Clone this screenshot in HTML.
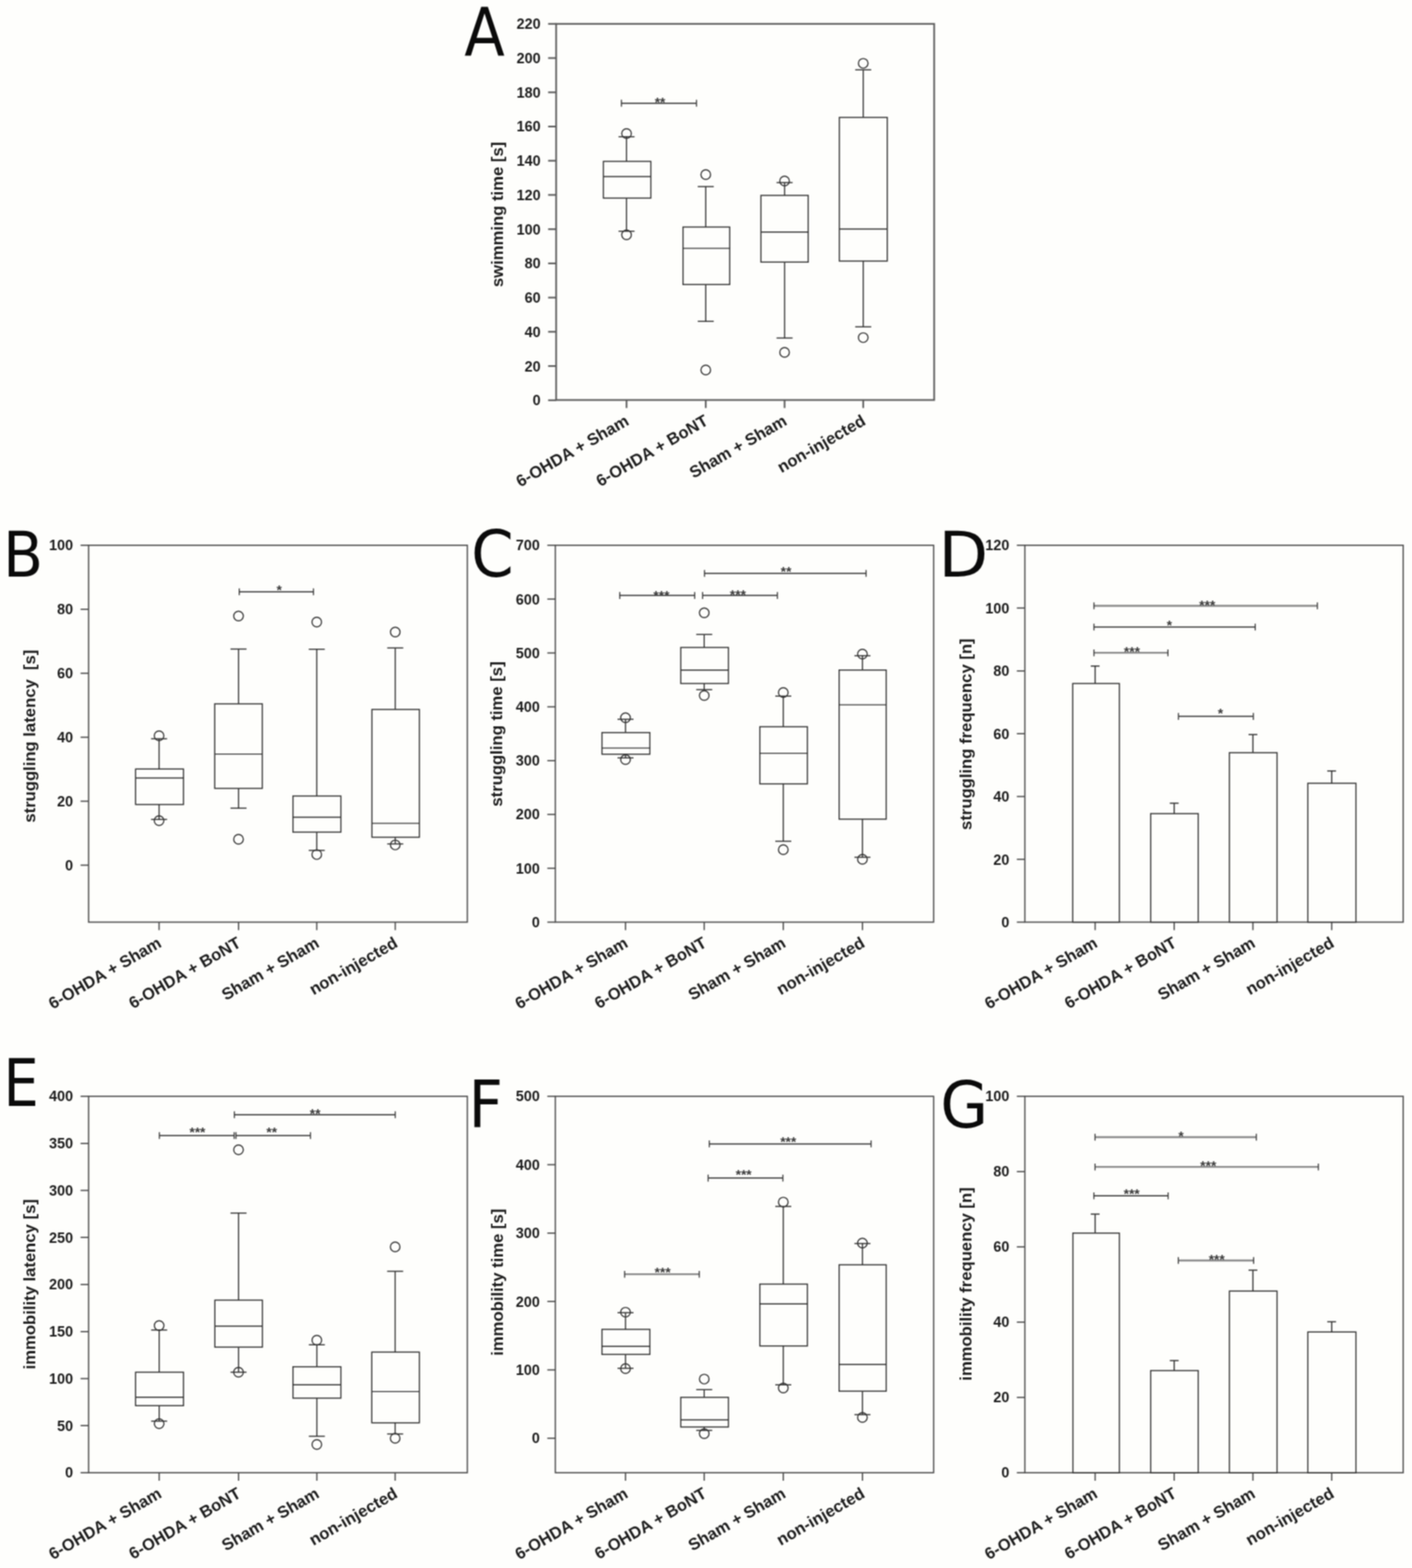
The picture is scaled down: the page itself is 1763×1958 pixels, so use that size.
<!DOCTYPE html>
<html lang="en">
<head>
<meta charset="utf-8">
<title>Forced swim test figure</title>
<style>
html,body{margin:0;padding:0;background:#fefefc;}
body{width:1763px;height:1958px;overflow:hidden;}
svg{display:block;}
svg text{font-family:"Liberation Sans",sans-serif;}
svg text.pl{font-family:"DejaVu Sans Condensed","DejaVu Sans","Liberation Sans",sans-serif;font-stretch:condensed;font-weight:normal;}
</style>
</head>
<body>
<svg width="1763" height="1958" viewBox="0 0 1763 1958">
<defs>
<filter id="soft" x="0" y="0" width="1763" height="1958" filterUnits="userSpaceOnUse" color-interpolation-filters="sRGB">
<feConvolveMatrix order="3" kernelMatrix="0.0576 0.1248 0.0576 0.1248 0.2704 0.1248 0.0576 0.1248 0.0576" divisor="1" edgeMode="duplicate" preserveAlpha="false"/>
</filter>
</defs>
<g filter="url(#soft)">
<rect x="0" y="0" width="1763" height="1958" fill="#fefefc"/>
<g>
<rect x="694.4" y="29.8" width="472.0" height="469.7" fill="none" stroke="#5a5a5a" stroke-width="2.1"/>
<line x1="684.4" y1="499.8" x2="694.4" y2="499.8" stroke="#5a5a5a" stroke-width="2.1"/>
<text x="675.0" y="506.2" font-size="18" font-weight="bold" text-anchor="end" fill="#1c1c1c">0</text>
<line x1="684.4" y1="457.1" x2="694.4" y2="457.1" stroke="#5a5a5a" stroke-width="2.1"/>
<text x="675.0" y="463.5" font-size="18" font-weight="bold" text-anchor="end" fill="#1c1c1c">20</text>
<line x1="684.4" y1="414.3" x2="694.4" y2="414.3" stroke="#5a5a5a" stroke-width="2.1"/>
<text x="675.0" y="420.7" font-size="18" font-weight="bold" text-anchor="end" fill="#1c1c1c">40</text>
<line x1="684.4" y1="371.6" x2="694.4" y2="371.6" stroke="#5a5a5a" stroke-width="2.1"/>
<text x="675.0" y="378.0" font-size="18" font-weight="bold" text-anchor="end" fill="#1c1c1c">60</text>
<line x1="684.4" y1="328.9" x2="694.4" y2="328.9" stroke="#5a5a5a" stroke-width="2.1"/>
<text x="675.0" y="335.3" font-size="18" font-weight="bold" text-anchor="end" fill="#1c1c1c">80</text>
<line x1="684.4" y1="286.2" x2="694.4" y2="286.2" stroke="#5a5a5a" stroke-width="2.1"/>
<text x="675.0" y="292.6" font-size="18" font-weight="bold" text-anchor="end" fill="#1c1c1c">100</text>
<line x1="684.4" y1="243.4" x2="694.4" y2="243.4" stroke="#5a5a5a" stroke-width="2.1"/>
<text x="675.0" y="249.8" font-size="18" font-weight="bold" text-anchor="end" fill="#1c1c1c">120</text>
<line x1="684.4" y1="200.7" x2="694.4" y2="200.7" stroke="#5a5a5a" stroke-width="2.1"/>
<text x="675.0" y="207.1" font-size="18" font-weight="bold" text-anchor="end" fill="#1c1c1c">140</text>
<line x1="684.4" y1="158.0" x2="694.4" y2="158.0" stroke="#5a5a5a" stroke-width="2.1"/>
<text x="675.0" y="164.4" font-size="18" font-weight="bold" text-anchor="end" fill="#1c1c1c">160</text>
<line x1="684.4" y1="115.3" x2="694.4" y2="115.3" stroke="#5a5a5a" stroke-width="2.1"/>
<text x="675.0" y="121.7" font-size="18" font-weight="bold" text-anchor="end" fill="#1c1c1c">180</text>
<line x1="684.4" y1="72.5" x2="694.4" y2="72.5" stroke="#5a5a5a" stroke-width="2.1"/>
<text x="675.0" y="78.9" font-size="18" font-weight="bold" text-anchor="end" fill="#1c1c1c">200</text>
<line x1="684.4" y1="29.8" x2="694.4" y2="29.8" stroke="#5a5a5a" stroke-width="2.1"/>
<text x="675.0" y="36.2" font-size="18" font-weight="bold" text-anchor="end" fill="#1c1c1c">220</text>
<line x1="782.3" y1="499.5" x2="782.3" y2="509.5" stroke="#5a5a5a" stroke-width="2.1"/>
<text transform="translate(786.7 529.5) rotate(-30)" font-size="20.7" font-weight="bold" text-anchor="end" fill="#1c1c1c">6-OHDA + Sham</text>
<line x1="881.2" y1="499.5" x2="881.2" y2="509.5" stroke="#5a5a5a" stroke-width="2.1"/>
<text transform="translate(885.6 529.5) rotate(-30)" font-size="20.7" font-weight="bold" text-anchor="end" fill="#1c1c1c">6-OHDA + BoNT</text>
<line x1="979.6" y1="499.5" x2="979.6" y2="509.5" stroke="#5a5a5a" stroke-width="2.1"/>
<text transform="translate(984.0 529.5) rotate(-30)" font-size="20.7" font-weight="bold" text-anchor="end" fill="#1c1c1c">Sham + Sham</text>
<line x1="1077.8" y1="499.5" x2="1077.8" y2="509.5" stroke="#5a5a5a" stroke-width="2.1"/>
<text transform="translate(1082.2 529.5) rotate(-30)" font-size="20.7" font-weight="bold" text-anchor="end" fill="#1c1c1c">non-injected</text>
<text transform="translate(628.0 267.8) rotate(-90)" font-size="20.8" font-weight="bold" text-anchor="middle" fill="#1c1c1c" xml:space="preserve" style="white-space:pre">swimming time [s]</text>
<line x1="782.3" y1="170.7" x2="782.3" y2="201.5" stroke="#303030" stroke-width="1.45"/>
<line x1="782.3" y1="247.4" x2="782.3" y2="288.7" stroke="#303030" stroke-width="1.45"/>
<line x1="772.3" y1="170.7" x2="792.3" y2="170.7" stroke="#303030" stroke-width="1.45"/>
<line x1="772.3" y1="288.7" x2="792.3" y2="288.7" stroke="#303030" stroke-width="1.45"/>
<rect x="753.4" y="201.5" width="59.2" height="45.9" fill="#fefefc" stroke="#303030" stroke-width="1.45"/>
<line x1="753.4" y1="220.4" x2="812.6" y2="220.4" stroke="#303030" stroke-width="1.45"/>
<circle cx="782.3" cy="166.8" r="6.0" fill="none" stroke="#303030" stroke-width="1.45"/>
<circle cx="782.3" cy="293.2" r="6.0" fill="none" stroke="#303030" stroke-width="1.45"/>
<line x1="881.2" y1="233.0" x2="881.2" y2="283.5" stroke="#303030" stroke-width="1.45"/>
<line x1="881.2" y1="355.3" x2="881.2" y2="401.3" stroke="#303030" stroke-width="1.45"/>
<line x1="871.2" y1="233.0" x2="891.2" y2="233.0" stroke="#303030" stroke-width="1.45"/>
<line x1="871.2" y1="401.3" x2="891.2" y2="401.3" stroke="#303030" stroke-width="1.45"/>
<rect x="852.8" y="283.5" width="58.3" height="71.8" fill="#fefefc" stroke="#303030" stroke-width="1.45"/>
<line x1="852.8" y1="310.1" x2="911.1" y2="310.1" stroke="#303030" stroke-width="1.45"/>
<circle cx="881.2" cy="217.9" r="6.0" fill="none" stroke="#303030" stroke-width="1.45"/>
<circle cx="881.2" cy="462.0" r="6.0" fill="none" stroke="#303030" stroke-width="1.45"/>
<line x1="979.6" y1="228.0" x2="979.6" y2="244.0" stroke="#303030" stroke-width="1.45"/>
<line x1="979.6" y1="327.3" x2="979.6" y2="422.1" stroke="#303030" stroke-width="1.45"/>
<line x1="969.6" y1="228.0" x2="989.6" y2="228.0" stroke="#303030" stroke-width="1.45"/>
<line x1="969.6" y1="422.1" x2="989.6" y2="422.1" stroke="#303030" stroke-width="1.45"/>
<rect x="950.1" y="244.0" width="59.0" height="83.3" fill="#fefefc" stroke="#303030" stroke-width="1.45"/>
<line x1="950.1" y1="289.7" x2="1009.1" y2="289.7" stroke="#303030" stroke-width="1.45"/>
<circle cx="979.6" cy="226.0" r="6.0" fill="none" stroke="#303030" stroke-width="1.45"/>
<circle cx="979.6" cy="440.0" r="6.0" fill="none" stroke="#303030" stroke-width="1.45"/>
<line x1="1077.8" y1="87.2" x2="1077.8" y2="146.6" stroke="#303030" stroke-width="1.45"/>
<line x1="1077.8" y1="326.0" x2="1077.8" y2="408.1" stroke="#303030" stroke-width="1.45"/>
<line x1="1067.8" y1="87.2" x2="1087.8" y2="87.2" stroke="#303030" stroke-width="1.45"/>
<line x1="1067.8" y1="408.1" x2="1087.8" y2="408.1" stroke="#303030" stroke-width="1.45"/>
<rect x="1048.0" y="146.6" width="59.8" height="179.4" fill="#fefefc" stroke="#303030" stroke-width="1.45"/>
<line x1="1048.0" y1="286.0" x2="1107.8" y2="286.0" stroke="#303030" stroke-width="1.45"/>
<circle cx="1077.8" cy="79.1" r="6.0" fill="none" stroke="#303030" stroke-width="1.45"/>
<circle cx="1077.8" cy="421.6" r="6.0" fill="none" stroke="#303030" stroke-width="1.45"/>
<line x1="775.9" y1="128.9" x2="869.6" y2="128.9" stroke="#2e2e2e" stroke-width="1.5"/>
<line x1="775.9" y1="124.6" x2="775.9" y2="133.2" stroke="#3a3a3a" stroke-width="1.4"/>
<line x1="869.6" y1="124.6" x2="869.6" y2="133.2" stroke="#3a3a3a" stroke-width="1.4"/>
<text x="824.1" y="133.8" font-size="17.2" font-weight="bold" text-anchor="middle" fill="#3a3a3a">**</text>
</g>
<g>
<rect x="110.6" y="680.9" width="472.9" height="470.6" fill="none" stroke="#4a4a4a" stroke-width="1.6"/>
<line x1="100.6" y1="1080.4" x2="110.6" y2="1080.4" stroke="#4a4a4a" stroke-width="1.6"/>
<text x="91.2" y="1086.8" font-size="18" font-weight="bold" text-anchor="end" fill="#1c1c1c">0</text>
<line x1="100.6" y1="1000.5" x2="110.6" y2="1000.5" stroke="#4a4a4a" stroke-width="1.6"/>
<text x="91.2" y="1006.9" font-size="18" font-weight="bold" text-anchor="end" fill="#1c1c1c">20</text>
<line x1="100.6" y1="920.6" x2="110.6" y2="920.6" stroke="#4a4a4a" stroke-width="1.6"/>
<text x="91.2" y="927.0" font-size="18" font-weight="bold" text-anchor="end" fill="#1c1c1c">40</text>
<line x1="100.6" y1="840.7" x2="110.6" y2="840.7" stroke="#4a4a4a" stroke-width="1.6"/>
<text x="91.2" y="847.1" font-size="18" font-weight="bold" text-anchor="end" fill="#1c1c1c">60</text>
<line x1="100.6" y1="760.8" x2="110.6" y2="760.8" stroke="#4a4a4a" stroke-width="1.6"/>
<text x="91.2" y="767.2" font-size="18" font-weight="bold" text-anchor="end" fill="#1c1c1c">80</text>
<line x1="100.6" y1="680.9" x2="110.6" y2="680.9" stroke="#4a4a4a" stroke-width="1.6"/>
<text x="91.2" y="687.3" font-size="18" font-weight="bold" text-anchor="end" fill="#1c1c1c">100</text>
<line x1="198.6" y1="1151.5" x2="198.6" y2="1161.5" stroke="#4a4a4a" stroke-width="1.6"/>
<text transform="translate(203.0 1181.5) rotate(-30)" font-size="20.7" font-weight="bold" text-anchor="end" fill="#1c1c1c">6-OHDA + Sham</text>
<line x1="297.8" y1="1151.5" x2="297.8" y2="1161.5" stroke="#4a4a4a" stroke-width="1.6"/>
<text transform="translate(302.2 1181.5) rotate(-30)" font-size="20.7" font-weight="bold" text-anchor="end" fill="#1c1c1c">6-OHDA + BoNT</text>
<line x1="395.5" y1="1151.5" x2="395.5" y2="1161.5" stroke="#4a4a4a" stroke-width="1.6"/>
<text transform="translate(399.9 1181.5) rotate(-30)" font-size="20.7" font-weight="bold" text-anchor="end" fill="#1c1c1c">Sham + Sham</text>
<line x1="493.5" y1="1151.5" x2="493.5" y2="1161.5" stroke="#4a4a4a" stroke-width="1.6"/>
<text transform="translate(497.9 1181.5) rotate(-30)" font-size="20.7" font-weight="bold" text-anchor="end" fill="#1c1c1c">non-injected</text>
<text transform="translate(43.8 919.3) rotate(-90)" font-size="20.8" font-weight="bold" text-anchor="middle" fill="#1c1c1c" xml:space="preserve" style="white-space:pre">struggling latency  [s]</text>
<line x1="198.6" y1="922.5" x2="198.6" y2="960.3" stroke="#303030" stroke-width="1.45"/>
<line x1="198.6" y1="1004.6" x2="198.6" y2="1023.3" stroke="#303030" stroke-width="1.45"/>
<line x1="188.6" y1="922.5" x2="208.6" y2="922.5" stroke="#303030" stroke-width="1.45"/>
<line x1="188.6" y1="1023.3" x2="208.6" y2="1023.3" stroke="#303030" stroke-width="1.45"/>
<rect x="169.3" y="960.3" width="59.8" height="44.3" fill="#fefefc" stroke="#303030" stroke-width="1.45"/>
<line x1="169.3" y1="971.5" x2="229.1" y2="971.5" stroke="#303030" stroke-width="1.45"/>
<circle cx="198.6" cy="918.7" r="6.0" fill="none" stroke="#303030" stroke-width="1.45"/>
<circle cx="198.6" cy="1024.8" r="6.0" fill="none" stroke="#303030" stroke-width="1.45"/>
<line x1="297.8" y1="810.5" x2="297.8" y2="878.9" stroke="#303030" stroke-width="1.45"/>
<line x1="297.8" y1="984.5" x2="297.8" y2="1009.2" stroke="#303030" stroke-width="1.45"/>
<line x1="287.8" y1="810.5" x2="307.8" y2="810.5" stroke="#303030" stroke-width="1.45"/>
<line x1="287.8" y1="1009.2" x2="307.8" y2="1009.2" stroke="#303030" stroke-width="1.45"/>
<rect x="268.1" y="878.9" width="59.4" height="105.6" fill="#fefefc" stroke="#303030" stroke-width="1.45"/>
<line x1="268.1" y1="941.6" x2="327.5" y2="941.6" stroke="#303030" stroke-width="1.45"/>
<circle cx="297.8" cy="769.2" r="6.0" fill="none" stroke="#303030" stroke-width="1.45"/>
<circle cx="297.8" cy="1048.0" r="6.0" fill="none" stroke="#303030" stroke-width="1.45"/>
<line x1="395.5" y1="810.7" x2="395.5" y2="994.0" stroke="#303030" stroke-width="1.45"/>
<line x1="395.5" y1="1039.1" x2="395.5" y2="1061.9" stroke="#303030" stroke-width="1.45"/>
<line x1="385.5" y1="810.7" x2="405.5" y2="810.7" stroke="#303030" stroke-width="1.45"/>
<line x1="385.5" y1="1061.9" x2="405.5" y2="1061.9" stroke="#303030" stroke-width="1.45"/>
<rect x="365.8" y="994.0" width="59.8" height="45.1" fill="#fefefc" stroke="#303030" stroke-width="1.45"/>
<line x1="365.8" y1="1020.4" x2="425.6" y2="1020.4" stroke="#303030" stroke-width="1.45"/>
<circle cx="395.5" cy="776.7" r="6.0" fill="none" stroke="#303030" stroke-width="1.45"/>
<circle cx="395.5" cy="1067.1" r="6.0" fill="none" stroke="#303030" stroke-width="1.45"/>
<line x1="493.5" y1="809.1" x2="493.5" y2="885.9" stroke="#303030" stroke-width="1.45"/>
<line x1="493.5" y1="1045.5" x2="493.5" y2="1053.8" stroke="#303030" stroke-width="1.45"/>
<line x1="483.5" y1="809.1" x2="503.5" y2="809.1" stroke="#303030" stroke-width="1.45"/>
<line x1="483.5" y1="1053.8" x2="503.5" y2="1053.8" stroke="#303030" stroke-width="1.45"/>
<rect x="464.4" y="885.9" width="59.2" height="159.6" fill="#fefefc" stroke="#303030" stroke-width="1.45"/>
<line x1="464.4" y1="1028.1" x2="523.6" y2="1028.1" stroke="#303030" stroke-width="1.45"/>
<circle cx="493.5" cy="789.2" r="6.0" fill="none" stroke="#303030" stroke-width="1.45"/>
<circle cx="493.5" cy="1055.1" r="6.0" fill="none" stroke="#303030" stroke-width="1.45"/>
<line x1="298.7" y1="739.0" x2="391.4" y2="739.0" stroke="#646464" stroke-width="1.9"/>
<line x1="298.7" y1="734.7" x2="298.7" y2="743.3" stroke="#3a3a3a" stroke-width="1.4"/>
<line x1="391.4" y1="734.7" x2="391.4" y2="743.3" stroke="#3a3a3a" stroke-width="1.4"/>
<text x="348.5" y="743.2" font-size="17.2" font-weight="bold" text-anchor="middle" fill="#3a3a3a">*</text>
</g>
<g>
<rect x="693.4" y="680.9" width="472.3" height="470.6" fill="none" stroke="#4a4a4a" stroke-width="1.6"/>
<line x1="683.4" y1="1151.5" x2="693.4" y2="1151.5" stroke="#4a4a4a" stroke-width="1.6"/>
<text x="674.0" y="1157.9" font-size="18" font-weight="bold" text-anchor="end" fill="#1c1c1c">0</text>
<line x1="683.4" y1="1084.3" x2="693.4" y2="1084.3" stroke="#4a4a4a" stroke-width="1.6"/>
<text x="674.0" y="1090.7" font-size="18" font-weight="bold" text-anchor="end" fill="#1c1c1c">100</text>
<line x1="683.4" y1="1017.0" x2="693.4" y2="1017.0" stroke="#4a4a4a" stroke-width="1.6"/>
<text x="674.0" y="1023.4" font-size="18" font-weight="bold" text-anchor="end" fill="#1c1c1c">200</text>
<line x1="683.4" y1="949.8" x2="693.4" y2="949.8" stroke="#4a4a4a" stroke-width="1.6"/>
<text x="674.0" y="956.2" font-size="18" font-weight="bold" text-anchor="end" fill="#1c1c1c">300</text>
<line x1="683.4" y1="882.6" x2="693.4" y2="882.6" stroke="#4a4a4a" stroke-width="1.6"/>
<text x="674.0" y="889.0" font-size="18" font-weight="bold" text-anchor="end" fill="#1c1c1c">400</text>
<line x1="683.4" y1="815.4" x2="693.4" y2="815.4" stroke="#4a4a4a" stroke-width="1.6"/>
<text x="674.0" y="821.8" font-size="18" font-weight="bold" text-anchor="end" fill="#1c1c1c">500</text>
<line x1="683.4" y1="748.1" x2="693.4" y2="748.1" stroke="#4a4a4a" stroke-width="1.6"/>
<text x="674.0" y="754.5" font-size="18" font-weight="bold" text-anchor="end" fill="#1c1c1c">600</text>
<line x1="683.4" y1="680.9" x2="693.4" y2="680.9" stroke="#4a4a4a" stroke-width="1.6"/>
<text x="674.0" y="687.3" font-size="18" font-weight="bold" text-anchor="end" fill="#1c1c1c">700</text>
<line x1="781.0" y1="1151.5" x2="781.0" y2="1161.5" stroke="#4a4a4a" stroke-width="1.6"/>
<text transform="translate(785.4 1181.5) rotate(-30)" font-size="20.7" font-weight="bold" text-anchor="end" fill="#1c1c1c">6-OHDA + Sham</text>
<line x1="879.3" y1="1151.5" x2="879.3" y2="1161.5" stroke="#4a4a4a" stroke-width="1.6"/>
<text transform="translate(883.7 1181.5) rotate(-30)" font-size="20.7" font-weight="bold" text-anchor="end" fill="#1c1c1c">6-OHDA + BoNT</text>
<line x1="978.0" y1="1151.5" x2="978.0" y2="1161.5" stroke="#4a4a4a" stroke-width="1.6"/>
<text transform="translate(982.4 1181.5) rotate(-30)" font-size="20.7" font-weight="bold" text-anchor="end" fill="#1c1c1c">Sham + Sham</text>
<line x1="1076.8" y1="1151.5" x2="1076.8" y2="1161.5" stroke="#4a4a4a" stroke-width="1.6"/>
<text transform="translate(1081.2 1181.5) rotate(-30)" font-size="20.7" font-weight="bold" text-anchor="end" fill="#1c1c1c">non-injected</text>
<text transform="translate(627.0 916.6) rotate(-90)" font-size="20.8" font-weight="bold" text-anchor="middle" fill="#1c1c1c" xml:space="preserve" style="white-space:pre">struggling time [s]</text>
<line x1="781.0" y1="898.2" x2="781.0" y2="914.8" stroke="#303030" stroke-width="1.45"/>
<line x1="781.0" y1="941.8" x2="781.0" y2="946.4" stroke="#303030" stroke-width="1.45"/>
<line x1="771.0" y1="898.2" x2="791.0" y2="898.2" stroke="#303030" stroke-width="1.45"/>
<line x1="771.0" y1="946.4" x2="791.0" y2="946.4" stroke="#303030" stroke-width="1.45"/>
<rect x="751.6" y="914.8" width="59.8" height="27.0" fill="#fefefc" stroke="#303030" stroke-width="1.45"/>
<line x1="751.6" y1="934.1" x2="811.4" y2="934.1" stroke="#303030" stroke-width="1.45"/>
<circle cx="781.0" cy="896.3" r="6.0" fill="none" stroke="#303030" stroke-width="1.45"/>
<circle cx="781.0" cy="948.5" r="6.0" fill="none" stroke="#303030" stroke-width="1.45"/>
<line x1="879.3" y1="792.3" x2="879.3" y2="808.5" stroke="#303030" stroke-width="1.45"/>
<line x1="879.3" y1="853.5" x2="879.3" y2="861.2" stroke="#303030" stroke-width="1.45"/>
<line x1="869.3" y1="792.3" x2="889.3" y2="792.3" stroke="#303030" stroke-width="1.45"/>
<line x1="869.3" y1="861.2" x2="889.3" y2="861.2" stroke="#303030" stroke-width="1.45"/>
<rect x="850.0" y="808.5" width="59.5" height="45.0" fill="#fefefc" stroke="#303030" stroke-width="1.45"/>
<line x1="850.0" y1="836.7" x2="909.5" y2="836.7" stroke="#303030" stroke-width="1.45"/>
<circle cx="879.3" cy="765.3" r="6.0" fill="none" stroke="#303030" stroke-width="1.45"/>
<circle cx="879.3" cy="868.5" r="6.0" fill="none" stroke="#303030" stroke-width="1.45"/>
<line x1="978.0" y1="869.3" x2="978.0" y2="907.5" stroke="#303030" stroke-width="1.45"/>
<line x1="978.0" y1="978.8" x2="978.0" y2="1050.5" stroke="#303030" stroke-width="1.45"/>
<line x1="968.0" y1="869.3" x2="988.0" y2="869.3" stroke="#303030" stroke-width="1.45"/>
<line x1="968.0" y1="1050.5" x2="988.0" y2="1050.5" stroke="#303030" stroke-width="1.45"/>
<rect x="948.7" y="907.5" width="59.4" height="71.3" fill="#fefefc" stroke="#303030" stroke-width="1.45"/>
<line x1="948.7" y1="940.6" x2="1008.1" y2="940.6" stroke="#303030" stroke-width="1.45"/>
<circle cx="978.0" cy="864.7" r="6.0" fill="none" stroke="#303030" stroke-width="1.45"/>
<circle cx="978.0" cy="1060.9" r="6.0" fill="none" stroke="#303030" stroke-width="1.45"/>
<line x1="1076.8" y1="818.8" x2="1076.8" y2="836.7" stroke="#303030" stroke-width="1.45"/>
<line x1="1076.8" y1="1022.9" x2="1076.8" y2="1070.5" stroke="#303030" stroke-width="1.45"/>
<line x1="1066.8" y1="818.8" x2="1086.8" y2="818.8" stroke="#303030" stroke-width="1.45"/>
<line x1="1066.8" y1="1070.5" x2="1086.8" y2="1070.5" stroke="#303030" stroke-width="1.45"/>
<rect x="1047.7" y="836.7" width="58.8" height="186.2" fill="#fefefc" stroke="#303030" stroke-width="1.45"/>
<line x1="1047.7" y1="880.1" x2="1106.5" y2="880.1" stroke="#303030" stroke-width="1.45"/>
<circle cx="1076.8" cy="816.8" r="6.0" fill="none" stroke="#303030" stroke-width="1.45"/>
<circle cx="1076.8" cy="1073.0" r="6.0" fill="none" stroke="#303030" stroke-width="1.45"/>
<line x1="773.8" y1="743.6" x2="867.4" y2="743.6" stroke="#2e2e2e" stroke-width="1.5"/>
<line x1="773.8" y1="739.3" x2="773.8" y2="747.9" stroke="#3a3a3a" stroke-width="1.4"/>
<line x1="867.4" y1="739.3" x2="867.4" y2="747.9" stroke="#3a3a3a" stroke-width="1.4"/>
<text x="825.9" y="749.8" font-size="17.2" font-weight="bold" text-anchor="middle" fill="#3a3a3a">***</text>
<line x1="877.3" y1="743.6" x2="970.6" y2="743.6" stroke="#2e2e2e" stroke-width="1.5"/>
<line x1="877.3" y1="739.3" x2="877.3" y2="747.9" stroke="#3a3a3a" stroke-width="1.4"/>
<line x1="970.6" y1="739.3" x2="970.6" y2="747.9" stroke="#3a3a3a" stroke-width="1.4"/>
<text x="921.3" y="748.9" font-size="17.2" font-weight="bold" text-anchor="middle" fill="#3a3a3a">***</text>
<line x1="879.6" y1="716.0" x2="1081.4" y2="716.0" stroke="#646464" stroke-width="1.9"/>
<line x1="879.6" y1="711.7" x2="879.6" y2="720.3" stroke="#3a3a3a" stroke-width="1.4"/>
<line x1="1081.4" y1="711.7" x2="1081.4" y2="720.3" stroke="#3a3a3a" stroke-width="1.4"/>
<text x="981.5" y="719.5" font-size="17.2" font-weight="bold" text-anchor="middle" fill="#3a3a3a">**</text>
</g>
<g>
<rect x="1279.6" y="680.9" width="472.4" height="470.6" fill="none" stroke="#4a4a4a" stroke-width="1.6"/>
<line x1="1269.6" y1="1151.5" x2="1279.6" y2="1151.5" stroke="#4a4a4a" stroke-width="1.6"/>
<text x="1260.2" y="1157.9" font-size="18" font-weight="bold" text-anchor="end" fill="#1c1c1c">0</text>
<line x1="1269.6" y1="1073.1" x2="1279.6" y2="1073.1" stroke="#4a4a4a" stroke-width="1.6"/>
<text x="1260.2" y="1079.5" font-size="18" font-weight="bold" text-anchor="end" fill="#1c1c1c">20</text>
<line x1="1269.6" y1="994.6" x2="1279.6" y2="994.6" stroke="#4a4a4a" stroke-width="1.6"/>
<text x="1260.2" y="1001.0" font-size="18" font-weight="bold" text-anchor="end" fill="#1c1c1c">40</text>
<line x1="1269.6" y1="916.2" x2="1279.6" y2="916.2" stroke="#4a4a4a" stroke-width="1.6"/>
<text x="1260.2" y="922.6" font-size="18" font-weight="bold" text-anchor="end" fill="#1c1c1c">60</text>
<line x1="1269.6" y1="837.8" x2="1279.6" y2="837.8" stroke="#4a4a4a" stroke-width="1.6"/>
<text x="1260.2" y="844.2" font-size="18" font-weight="bold" text-anchor="end" fill="#1c1c1c">80</text>
<line x1="1269.6" y1="759.3" x2="1279.6" y2="759.3" stroke="#4a4a4a" stroke-width="1.6"/>
<text x="1260.2" y="765.7" font-size="18" font-weight="bold" text-anchor="end" fill="#1c1c1c">100</text>
<line x1="1269.6" y1="680.9" x2="1279.6" y2="680.9" stroke="#4a4a4a" stroke-width="1.6"/>
<text x="1260.2" y="687.3" font-size="18" font-weight="bold" text-anchor="end" fill="#1c1c1c">120</text>
<line x1="1367.4" y1="1151.5" x2="1367.4" y2="1161.5" stroke="#4a4a4a" stroke-width="1.6"/>
<text transform="translate(1371.8 1181.5) rotate(-30)" font-size="20.7" font-weight="bold" text-anchor="end" fill="#1c1c1c">6-OHDA + Sham</text>
<line x1="1466.1" y1="1151.5" x2="1466.1" y2="1161.5" stroke="#4a4a4a" stroke-width="1.6"/>
<text transform="translate(1470.5 1181.5) rotate(-30)" font-size="20.7" font-weight="bold" text-anchor="end" fill="#1c1c1c">6-OHDA + BoNT</text>
<line x1="1564.4" y1="1151.5" x2="1564.4" y2="1161.5" stroke="#4a4a4a" stroke-width="1.6"/>
<text transform="translate(1568.8 1181.5) rotate(-30)" font-size="20.7" font-weight="bold" text-anchor="end" fill="#1c1c1c">Sham + Sham</text>
<line x1="1662.7" y1="1151.5" x2="1662.7" y2="1161.5" stroke="#4a4a4a" stroke-width="1.6"/>
<text transform="translate(1667.1 1181.5) rotate(-30)" font-size="20.7" font-weight="bold" text-anchor="end" fill="#1c1c1c">non-injected</text>
<text transform="translate(1213.2 916.8) rotate(-90)" font-size="20.8" font-weight="bold" text-anchor="middle" fill="#1c1c1c" xml:space="preserve" style="white-space:pre">struggling frequency [n]</text>
<line x1="1367.4" y1="831.7" x2="1367.4" y2="853.5" stroke="#303030" stroke-width="1.5"/>
<line x1="1361.9" y1="831.7" x2="1372.9" y2="831.7" stroke="#303030" stroke-width="1.5"/>
<rect x="1339.4" y="853.5" width="58.2" height="298.0" fill="#fefefc" stroke="#303030" stroke-width="1.45"/>
<line x1="1466.1" y1="1003.0" x2="1466.1" y2="1016.0" stroke="#303030" stroke-width="1.5"/>
<line x1="1460.6" y1="1003.0" x2="1471.6" y2="1003.0" stroke="#303030" stroke-width="1.5"/>
<rect x="1436.7" y="1016.0" width="59.4" height="135.5" fill="#fefefc" stroke="#303030" stroke-width="1.45"/>
<line x1="1564.4" y1="917.3" x2="1564.4" y2="939.9" stroke="#303030" stroke-width="1.5"/>
<line x1="1558.9" y1="917.3" x2="1569.9" y2="917.3" stroke="#303030" stroke-width="1.5"/>
<rect x="1535.0" y="939.9" width="59.5" height="211.6" fill="#fefefc" stroke="#303030" stroke-width="1.45"/>
<line x1="1662.7" y1="962.7" x2="1662.7" y2="978.1" stroke="#303030" stroke-width="1.5"/>
<line x1="1657.2" y1="962.7" x2="1668.2" y2="962.7" stroke="#303030" stroke-width="1.5"/>
<rect x="1632.9" y="978.1" width="60.1" height="173.4" fill="#fefefc" stroke="#303030" stroke-width="1.45"/>
<line x1="1365.9" y1="756.5" x2="1644.8" y2="756.5" stroke="#8a8a8a" stroke-width="2.3"/>
<line x1="1365.9" y1="752.2" x2="1365.9" y2="760.8" stroke="#3a3a3a" stroke-width="1.4"/>
<line x1="1644.8" y1="752.2" x2="1644.8" y2="760.8" stroke="#3a3a3a" stroke-width="1.4"/>
<text x="1507.3" y="761.8" font-size="17.2" font-weight="bold" text-anchor="middle" fill="#3a3a3a">***</text>
<line x1="1365.9" y1="783.0" x2="1567.3" y2="783.0" stroke="#646464" stroke-width="1.9"/>
<line x1="1365.9" y1="778.7" x2="1365.9" y2="787.3" stroke="#3a3a3a" stroke-width="1.4"/>
<line x1="1567.3" y1="778.7" x2="1567.3" y2="787.3" stroke="#3a3a3a" stroke-width="1.4"/>
<text x="1460.0" y="787.1" font-size="17.2" font-weight="bold" text-anchor="middle" fill="#3a3a3a">*</text>
<line x1="1365.9" y1="815.2" x2="1458.3" y2="815.2" stroke="#8a8a8a" stroke-width="2.3"/>
<line x1="1365.9" y1="810.9" x2="1365.9" y2="819.5" stroke="#3a3a3a" stroke-width="1.4"/>
<line x1="1458.3" y1="810.9" x2="1458.3" y2="819.5" stroke="#3a3a3a" stroke-width="1.4"/>
<text x="1413.3" y="819.7" font-size="17.2" font-weight="bold" text-anchor="middle" fill="#3a3a3a">***</text>
<line x1="1471.4" y1="894.6" x2="1564.9" y2="894.6" stroke="#2e2e2e" stroke-width="1.5"/>
<line x1="1471.4" y1="890.3" x2="1471.4" y2="898.9" stroke="#3a3a3a" stroke-width="1.4"/>
<line x1="1564.9" y1="890.3" x2="1564.9" y2="898.9" stroke="#3a3a3a" stroke-width="1.4"/>
<text x="1523.8" y="897.0" font-size="17.2" font-weight="bold" text-anchor="middle" fill="#3a3a3a">*</text>
</g>
<g>
<rect x="110.6" y="1369.0" width="472.9" height="470.0" fill="none" stroke="#4a4a4a" stroke-width="1.6"/>
<line x1="100.6" y1="1839.0" x2="110.6" y2="1839.0" stroke="#4a4a4a" stroke-width="1.6"/>
<text x="91.2" y="1845.4" font-size="18" font-weight="bold" text-anchor="end" fill="#1c1c1c">0</text>
<line x1="100.6" y1="1780.2" x2="110.6" y2="1780.2" stroke="#4a4a4a" stroke-width="1.6"/>
<text x="91.2" y="1786.7" font-size="18" font-weight="bold" text-anchor="end" fill="#1c1c1c">50</text>
<line x1="100.6" y1="1721.5" x2="110.6" y2="1721.5" stroke="#4a4a4a" stroke-width="1.6"/>
<text x="91.2" y="1727.9" font-size="18" font-weight="bold" text-anchor="end" fill="#1c1c1c">100</text>
<line x1="100.6" y1="1662.8" x2="110.6" y2="1662.8" stroke="#4a4a4a" stroke-width="1.6"/>
<text x="91.2" y="1669.2" font-size="18" font-weight="bold" text-anchor="end" fill="#1c1c1c">150</text>
<line x1="100.6" y1="1604.0" x2="110.6" y2="1604.0" stroke="#4a4a4a" stroke-width="1.6"/>
<text x="91.2" y="1610.4" font-size="18" font-weight="bold" text-anchor="end" fill="#1c1c1c">200</text>
<line x1="100.6" y1="1545.2" x2="110.6" y2="1545.2" stroke="#4a4a4a" stroke-width="1.6"/>
<text x="91.2" y="1551.7" font-size="18" font-weight="bold" text-anchor="end" fill="#1c1c1c">250</text>
<line x1="100.6" y1="1486.5" x2="110.6" y2="1486.5" stroke="#4a4a4a" stroke-width="1.6"/>
<text x="91.2" y="1492.9" font-size="18" font-weight="bold" text-anchor="end" fill="#1c1c1c">300</text>
<line x1="100.6" y1="1427.8" x2="110.6" y2="1427.8" stroke="#4a4a4a" stroke-width="1.6"/>
<text x="91.2" y="1434.2" font-size="18" font-weight="bold" text-anchor="end" fill="#1c1c1c">350</text>
<line x1="100.6" y1="1369.0" x2="110.6" y2="1369.0" stroke="#4a4a4a" stroke-width="1.6"/>
<text x="91.2" y="1375.4" font-size="18" font-weight="bold" text-anchor="end" fill="#1c1c1c">400</text>
<line x1="198.7" y1="1839.0" x2="198.7" y2="1849.0" stroke="#4a4a4a" stroke-width="1.6"/>
<text transform="translate(203.1 1869.0) rotate(-30)" font-size="20.7" font-weight="bold" text-anchor="end" fill="#1c1c1c">6-OHDA + Sham</text>
<line x1="297.8" y1="1839.0" x2="297.8" y2="1849.0" stroke="#4a4a4a" stroke-width="1.6"/>
<text transform="translate(302.2 1869.0) rotate(-30)" font-size="20.7" font-weight="bold" text-anchor="end" fill="#1c1c1c">6-OHDA + BoNT</text>
<line x1="395.6" y1="1839.0" x2="395.6" y2="1849.0" stroke="#4a4a4a" stroke-width="1.6"/>
<text transform="translate(400.0 1869.0) rotate(-30)" font-size="20.7" font-weight="bold" text-anchor="end" fill="#1c1c1c">Sham + Sham</text>
<line x1="493.4" y1="1839.0" x2="493.4" y2="1849.0" stroke="#4a4a4a" stroke-width="1.6"/>
<text transform="translate(497.8 1869.0) rotate(-30)" font-size="20.7" font-weight="bold" text-anchor="end" fill="#1c1c1c">non-injected</text>
<text transform="translate(43.8 1603.7) rotate(-90)" font-size="20.8" font-weight="bold" text-anchor="middle" fill="#1c1c1c" xml:space="preserve" style="white-space:pre">immobility latency [s]</text>
<line x1="198.7" y1="1660.8" x2="198.7" y2="1713.5" stroke="#303030" stroke-width="1.45"/>
<line x1="198.7" y1="1755.3" x2="198.7" y2="1774.6" stroke="#303030" stroke-width="1.45"/>
<line x1="188.7" y1="1660.8" x2="208.7" y2="1660.8" stroke="#303030" stroke-width="1.45"/>
<line x1="188.7" y1="1774.6" x2="208.7" y2="1774.6" stroke="#303030" stroke-width="1.45"/>
<rect x="169.3" y="1713.5" width="59.8" height="41.8" fill="#fefefc" stroke="#303030" stroke-width="1.45"/>
<line x1="169.3" y1="1744.7" x2="229.1" y2="1744.7" stroke="#303030" stroke-width="1.45"/>
<circle cx="198.7" cy="1655.3" r="6.0" fill="none" stroke="#303030" stroke-width="1.45"/>
<circle cx="198.7" cy="1777.7" r="6.0" fill="none" stroke="#303030" stroke-width="1.45"/>
<line x1="297.8" y1="1514.8" x2="297.8" y2="1623.5" stroke="#303030" stroke-width="1.45"/>
<line x1="297.8" y1="1682.2" x2="297.8" y2="1713.5" stroke="#303030" stroke-width="1.45"/>
<line x1="287.8" y1="1514.8" x2="307.8" y2="1514.8" stroke="#303030" stroke-width="1.45"/>
<line x1="287.8" y1="1713.5" x2="307.8" y2="1713.5" stroke="#303030" stroke-width="1.45"/>
<rect x="268.3" y="1623.5" width="59.3" height="58.7" fill="#fefefc" stroke="#303030" stroke-width="1.45"/>
<line x1="268.3" y1="1656.0" x2="327.6" y2="1656.0" stroke="#303030" stroke-width="1.45"/>
<circle cx="297.8" cy="1435.7" r="6.0" fill="none" stroke="#303030" stroke-width="1.45"/>
<circle cx="297.8" cy="1713.5" r="6.0" fill="none" stroke="#303030" stroke-width="1.45"/>
<line x1="395.6" y1="1679.3" x2="395.6" y2="1706.7" stroke="#303030" stroke-width="1.45"/>
<line x1="395.6" y1="1745.9" x2="395.6" y2="1793.5" stroke="#303030" stroke-width="1.45"/>
<line x1="385.6" y1="1679.3" x2="405.6" y2="1679.3" stroke="#303030" stroke-width="1.45"/>
<line x1="385.6" y1="1793.5" x2="405.6" y2="1793.5" stroke="#303030" stroke-width="1.45"/>
<rect x="365.8" y="1706.7" width="59.8" height="39.2" fill="#fefefc" stroke="#303030" stroke-width="1.45"/>
<line x1="365.8" y1="1729.3" x2="425.6" y2="1729.3" stroke="#303030" stroke-width="1.45"/>
<circle cx="395.6" cy="1673.4" r="6.0" fill="none" stroke="#303030" stroke-width="1.45"/>
<circle cx="395.6" cy="1803.7" r="6.0" fill="none" stroke="#303030" stroke-width="1.45"/>
<line x1="493.4" y1="1587.5" x2="493.4" y2="1688.4" stroke="#303030" stroke-width="1.45"/>
<line x1="493.4" y1="1776.7" x2="493.4" y2="1790.6" stroke="#303030" stroke-width="1.45"/>
<line x1="483.4" y1="1587.5" x2="503.4" y2="1587.5" stroke="#303030" stroke-width="1.45"/>
<line x1="483.4" y1="1790.6" x2="503.4" y2="1790.6" stroke="#303030" stroke-width="1.45"/>
<rect x="464.2" y="1688.4" width="59.4" height="88.3" fill="#fefefc" stroke="#303030" stroke-width="1.45"/>
<line x1="464.2" y1="1737.6" x2="523.6" y2="1737.6" stroke="#303030" stroke-width="1.45"/>
<circle cx="493.4" cy="1557.0" r="6.0" fill="none" stroke="#303030" stroke-width="1.45"/>
<circle cx="493.4" cy="1796.0" r="6.0" fill="none" stroke="#303030" stroke-width="1.45"/>
<line x1="199.0" y1="1418.0" x2="292.4" y2="1418.0" stroke="#646464" stroke-width="1.9"/>
<line x1="199.0" y1="1413.7" x2="199.0" y2="1422.3" stroke="#3a3a3a" stroke-width="1.4"/>
<line x1="292.4" y1="1413.7" x2="292.4" y2="1422.3" stroke="#3a3a3a" stroke-width="1.4"/>
<text x="246.5" y="1420.3" font-size="17.2" font-weight="bold" text-anchor="middle" fill="#3a3a3a">***</text>
<line x1="294.6" y1="1418.0" x2="387.6" y2="1418.0" stroke="#646464" stroke-width="1.9"/>
<line x1="294.6" y1="1413.7" x2="294.6" y2="1422.3" stroke="#3a3a3a" stroke-width="1.4"/>
<line x1="387.6" y1="1413.7" x2="387.6" y2="1422.3" stroke="#3a3a3a" stroke-width="1.4"/>
<text x="339.2" y="1419.9" font-size="17.2" font-weight="bold" text-anchor="middle" fill="#3a3a3a">**</text>
<line x1="292.6" y1="1392.0" x2="493.5" y2="1392.0" stroke="#2e2e2e" stroke-width="1.5"/>
<line x1="292.6" y1="1387.7" x2="292.6" y2="1396.3" stroke="#3a3a3a" stroke-width="1.4"/>
<line x1="493.5" y1="1387.7" x2="493.5" y2="1396.3" stroke="#3a3a3a" stroke-width="1.4"/>
<text x="393.4" y="1396.6" font-size="17.2" font-weight="bold" text-anchor="middle" fill="#3a3a3a">**</text>
</g>
<g>
<rect x="693.4" y="1369.0" width="472.3" height="470.0" fill="none" stroke="#4a4a4a" stroke-width="1.6"/>
<line x1="683.4" y1="1796.0" x2="693.4" y2="1796.0" stroke="#4a4a4a" stroke-width="1.6"/>
<text x="674.0" y="1802.4" font-size="18" font-weight="bold" text-anchor="end" fill="#1c1c1c">0</text>
<line x1="683.4" y1="1710.6" x2="693.4" y2="1710.6" stroke="#4a4a4a" stroke-width="1.6"/>
<text x="674.0" y="1717.0" font-size="18" font-weight="bold" text-anchor="end" fill="#1c1c1c">100</text>
<line x1="683.4" y1="1625.2" x2="693.4" y2="1625.2" stroke="#4a4a4a" stroke-width="1.6"/>
<text x="674.0" y="1631.6" font-size="18" font-weight="bold" text-anchor="end" fill="#1c1c1c">200</text>
<line x1="683.4" y1="1539.8" x2="693.4" y2="1539.8" stroke="#4a4a4a" stroke-width="1.6"/>
<text x="674.0" y="1546.2" font-size="18" font-weight="bold" text-anchor="end" fill="#1c1c1c">300</text>
<line x1="683.4" y1="1454.4" x2="693.4" y2="1454.4" stroke="#4a4a4a" stroke-width="1.6"/>
<text x="674.0" y="1460.8" font-size="18" font-weight="bold" text-anchor="end" fill="#1c1c1c">400</text>
<line x1="683.4" y1="1369.0" x2="693.4" y2="1369.0" stroke="#4a4a4a" stroke-width="1.6"/>
<text x="674.0" y="1375.4" font-size="18" font-weight="bold" text-anchor="end" fill="#1c1c1c">500</text>
<line x1="781.0" y1="1839.0" x2="781.0" y2="1849.0" stroke="#4a4a4a" stroke-width="1.6"/>
<text transform="translate(785.4 1869.0) rotate(-30)" font-size="20.7" font-weight="bold" text-anchor="end" fill="#1c1c1c">6-OHDA + Sham</text>
<line x1="879.3" y1="1839.0" x2="879.3" y2="1849.0" stroke="#4a4a4a" stroke-width="1.6"/>
<text transform="translate(883.7 1869.0) rotate(-30)" font-size="20.7" font-weight="bold" text-anchor="end" fill="#1c1c1c">6-OHDA + BoNT</text>
<line x1="978.0" y1="1839.0" x2="978.0" y2="1849.0" stroke="#4a4a4a" stroke-width="1.6"/>
<text transform="translate(982.4 1869.0) rotate(-30)" font-size="20.7" font-weight="bold" text-anchor="end" fill="#1c1c1c">Sham + Sham</text>
<line x1="1076.8" y1="1839.0" x2="1076.8" y2="1849.0" stroke="#4a4a4a" stroke-width="1.6"/>
<text transform="translate(1081.2 1869.0) rotate(-30)" font-size="20.7" font-weight="bold" text-anchor="end" fill="#1c1c1c">non-injected</text>
<text transform="translate(627.5 1601.1) rotate(-90)" font-size="20.8" font-weight="bold" text-anchor="middle" fill="#1c1c1c" xml:space="preserve" style="white-space:pre">immobility time [s]</text>
<line x1="781.0" y1="1639.2" x2="781.0" y2="1660.0" stroke="#303030" stroke-width="1.45"/>
<line x1="781.0" y1="1691.3" x2="781.0" y2="1708.6" stroke="#303030" stroke-width="1.45"/>
<line x1="771.0" y1="1639.2" x2="791.0" y2="1639.2" stroke="#303030" stroke-width="1.45"/>
<line x1="771.0" y1="1708.6" x2="791.0" y2="1708.6" stroke="#303030" stroke-width="1.45"/>
<rect x="751.6" y="1660.0" width="59.8" height="31.3" fill="#fefefc" stroke="#303030" stroke-width="1.45"/>
<line x1="751.6" y1="1681.3" x2="811.4" y2="1681.3" stroke="#303030" stroke-width="1.45"/>
<circle cx="781.0" cy="1638.6" r="6.0" fill="none" stroke="#303030" stroke-width="1.45"/>
<circle cx="781.0" cy="1709.0" r="6.0" fill="none" stroke="#303030" stroke-width="1.45"/>
<line x1="879.3" y1="1735.3" x2="879.3" y2="1744.9" stroke="#303030" stroke-width="1.45"/>
<line x1="879.3" y1="1781.9" x2="879.3" y2="1786.2" stroke="#303030" stroke-width="1.45"/>
<line x1="869.3" y1="1735.3" x2="889.3" y2="1735.3" stroke="#303030" stroke-width="1.45"/>
<line x1="869.3" y1="1786.2" x2="889.3" y2="1786.2" stroke="#303030" stroke-width="1.45"/>
<rect x="850.0" y="1744.9" width="59.5" height="37.0" fill="#fefefc" stroke="#303030" stroke-width="1.45"/>
<line x1="850.0" y1="1772.9" x2="909.5" y2="1772.9" stroke="#303030" stroke-width="1.45"/>
<circle cx="879.3" cy="1722.1" r="6.0" fill="none" stroke="#303030" stroke-width="1.45"/>
<circle cx="879.3" cy="1790.2" r="6.0" fill="none" stroke="#303030" stroke-width="1.45"/>
<line x1="978.0" y1="1506.5" x2="978.0" y2="1603.5" stroke="#303030" stroke-width="1.45"/>
<line x1="978.0" y1="1680.7" x2="978.0" y2="1729.3" stroke="#303030" stroke-width="1.45"/>
<line x1="968.0" y1="1506.5" x2="988.0" y2="1506.5" stroke="#303030" stroke-width="1.45"/>
<line x1="968.0" y1="1729.3" x2="988.0" y2="1729.3" stroke="#303030" stroke-width="1.45"/>
<rect x="948.7" y="1603.5" width="59.4" height="77.2" fill="#fefefc" stroke="#303030" stroke-width="1.45"/>
<line x1="948.7" y1="1628.2" x2="1008.1" y2="1628.2" stroke="#303030" stroke-width="1.45"/>
<circle cx="978.0" cy="1501.1" r="6.0" fill="none" stroke="#303030" stroke-width="1.45"/>
<circle cx="978.0" cy="1733.3" r="6.0" fill="none" stroke="#303030" stroke-width="1.45"/>
<line x1="1076.8" y1="1552.8" x2="1076.8" y2="1579.4" stroke="#303030" stroke-width="1.45"/>
<line x1="1076.8" y1="1737.2" x2="1076.8" y2="1766.5" stroke="#303030" stroke-width="1.45"/>
<line x1="1066.8" y1="1552.8" x2="1086.8" y2="1552.8" stroke="#303030" stroke-width="1.45"/>
<line x1="1066.8" y1="1766.5" x2="1086.8" y2="1766.5" stroke="#303030" stroke-width="1.45"/>
<rect x="1047.7" y="1579.4" width="58.8" height="157.8" fill="#fefefc" stroke="#303030" stroke-width="1.45"/>
<line x1="1047.7" y1="1703.8" x2="1106.5" y2="1703.8" stroke="#303030" stroke-width="1.45"/>
<circle cx="1076.8" cy="1552.2" r="6.0" fill="none" stroke="#303030" stroke-width="1.45"/>
<circle cx="1076.8" cy="1770.0" r="6.0" fill="none" stroke="#303030" stroke-width="1.45"/>
<line x1="779.9" y1="1591.2" x2="873.1" y2="1591.2" stroke="#8a8a8a" stroke-width="2.3"/>
<line x1="779.9" y1="1586.9" x2="779.9" y2="1595.5" stroke="#3a3a3a" stroke-width="1.4"/>
<line x1="873.1" y1="1586.9" x2="873.1" y2="1595.5" stroke="#3a3a3a" stroke-width="1.4"/>
<text x="827.4" y="1595.2" font-size="17.2" font-weight="bold" text-anchor="middle" fill="#3a3a3a">***</text>
<line x1="884.2" y1="1471.1" x2="977.5" y2="1471.1" stroke="#2e2e2e" stroke-width="1.5"/>
<line x1="884.2" y1="1466.8" x2="884.2" y2="1475.4" stroke="#3a3a3a" stroke-width="1.4"/>
<line x1="977.5" y1="1466.8" x2="977.5" y2="1475.4" stroke="#3a3a3a" stroke-width="1.4"/>
<text x="928.5" y="1472.7" font-size="17.2" font-weight="bold" text-anchor="middle" fill="#3a3a3a">***</text>
<line x1="885.6" y1="1428.4" x2="1087.6" y2="1428.4" stroke="#2e2e2e" stroke-width="1.5"/>
<line x1="885.6" y1="1424.1" x2="885.6" y2="1432.7" stroke="#3a3a3a" stroke-width="1.4"/>
<line x1="1087.6" y1="1424.1" x2="1087.6" y2="1432.7" stroke="#3a3a3a" stroke-width="1.4"/>
<text x="984.2" y="1432.4" font-size="17.2" font-weight="bold" text-anchor="middle" fill="#3a3a3a">***</text>
</g>
<g>
<rect x="1279.6" y="1369.0" width="472.4" height="470.0" fill="none" stroke="#4a4a4a" stroke-width="1.6"/>
<line x1="1269.6" y1="1839.0" x2="1279.6" y2="1839.0" stroke="#4a4a4a" stroke-width="1.6"/>
<text x="1260.2" y="1845.4" font-size="18" font-weight="bold" text-anchor="end" fill="#1c1c1c">0</text>
<line x1="1269.6" y1="1745.0" x2="1279.6" y2="1745.0" stroke="#4a4a4a" stroke-width="1.6"/>
<text x="1260.2" y="1751.4" font-size="18" font-weight="bold" text-anchor="end" fill="#1c1c1c">20</text>
<line x1="1269.6" y1="1651.0" x2="1279.6" y2="1651.0" stroke="#4a4a4a" stroke-width="1.6"/>
<text x="1260.2" y="1657.4" font-size="18" font-weight="bold" text-anchor="end" fill="#1c1c1c">40</text>
<line x1="1269.6" y1="1557.0" x2="1279.6" y2="1557.0" stroke="#4a4a4a" stroke-width="1.6"/>
<text x="1260.2" y="1563.4" font-size="18" font-weight="bold" text-anchor="end" fill="#1c1c1c">60</text>
<line x1="1269.6" y1="1463.0" x2="1279.6" y2="1463.0" stroke="#4a4a4a" stroke-width="1.6"/>
<text x="1260.2" y="1469.4" font-size="18" font-weight="bold" text-anchor="end" fill="#1c1c1c">80</text>
<line x1="1269.6" y1="1369.0" x2="1279.6" y2="1369.0" stroke="#4a4a4a" stroke-width="1.6"/>
<text x="1260.2" y="1375.4" font-size="18" font-weight="bold" text-anchor="end" fill="#1c1c1c">100</text>
<line x1="1367.4" y1="1839.0" x2="1367.4" y2="1849.0" stroke="#4a4a4a" stroke-width="1.6"/>
<text transform="translate(1371.8 1869.0) rotate(-30)" font-size="20.7" font-weight="bold" text-anchor="end" fill="#1c1c1c">6-OHDA + Sham</text>
<line x1="1466.1" y1="1839.0" x2="1466.1" y2="1849.0" stroke="#4a4a4a" stroke-width="1.6"/>
<text transform="translate(1470.5 1869.0) rotate(-30)" font-size="20.7" font-weight="bold" text-anchor="end" fill="#1c1c1c">6-OHDA + BoNT</text>
<line x1="1564.4" y1="1839.0" x2="1564.4" y2="1849.0" stroke="#4a4a4a" stroke-width="1.6"/>
<text transform="translate(1568.8 1869.0) rotate(-30)" font-size="20.7" font-weight="bold" text-anchor="end" fill="#1c1c1c">Sham + Sham</text>
<line x1="1662.7" y1="1839.0" x2="1662.7" y2="1849.0" stroke="#4a4a4a" stroke-width="1.6"/>
<text transform="translate(1667.1 1869.0) rotate(-30)" font-size="20.7" font-weight="bold" text-anchor="end" fill="#1c1c1c">non-injected</text>
<text transform="translate(1212.5 1603.4) rotate(-90)" font-size="20.8" font-weight="bold" text-anchor="middle" fill="#1c1c1c" xml:space="preserve" style="white-space:pre">immobility frequency [n]</text>
<line x1="1367.4" y1="1516.1" x2="1367.4" y2="1539.8" stroke="#303030" stroke-width="1.5"/>
<line x1="1361.9" y1="1516.1" x2="1372.9" y2="1516.1" stroke="#303030" stroke-width="1.5"/>
<rect x="1339.6" y="1539.8" width="58.0" height="299.2" fill="#fefefc" stroke="#303030" stroke-width="1.45"/>
<line x1="1466.1" y1="1699.0" x2="1466.1" y2="1711.5" stroke="#303030" stroke-width="1.5"/>
<line x1="1460.6" y1="1699.0" x2="1471.6" y2="1699.0" stroke="#303030" stroke-width="1.5"/>
<rect x="1436.7" y="1711.5" width="59.4" height="127.5" fill="#fefefc" stroke="#303030" stroke-width="1.45"/>
<line x1="1564.4" y1="1586.1" x2="1564.4" y2="1612.2" stroke="#303030" stroke-width="1.5"/>
<line x1="1558.9" y1="1586.1" x2="1569.9" y2="1586.1" stroke="#303030" stroke-width="1.5"/>
<rect x="1535.0" y="1612.2" width="59.5" height="226.8" fill="#fefefc" stroke="#303030" stroke-width="1.45"/>
<line x1="1662.7" y1="1650.5" x2="1662.7" y2="1663.3" stroke="#303030" stroke-width="1.5"/>
<line x1="1657.2" y1="1650.5" x2="1668.2" y2="1650.5" stroke="#303030" stroke-width="1.5"/>
<rect x="1632.9" y="1663.3" width="60.1" height="175.7" fill="#fefefc" stroke="#303030" stroke-width="1.45"/>
<line x1="1367.3" y1="1420.0" x2="1568.6" y2="1420.0" stroke="#8a8a8a" stroke-width="2.3"/>
<line x1="1367.3" y1="1415.7" x2="1367.3" y2="1424.3" stroke="#3a3a3a" stroke-width="1.4"/>
<line x1="1568.6" y1="1415.7" x2="1568.6" y2="1424.3" stroke="#3a3a3a" stroke-width="1.4"/>
<text x="1474.5" y="1425.0" font-size="17.2" font-weight="bold" text-anchor="middle" fill="#3a3a3a">*</text>
<line x1="1367.3" y1="1457.2" x2="1646.1" y2="1457.2" stroke="#8a8a8a" stroke-width="2.3"/>
<line x1="1367.3" y1="1452.9" x2="1367.3" y2="1461.5" stroke="#3a3a3a" stroke-width="1.4"/>
<line x1="1646.1" y1="1452.9" x2="1646.1" y2="1461.5" stroke="#3a3a3a" stroke-width="1.4"/>
<text x="1508.6" y="1462.4" font-size="17.2" font-weight="bold" text-anchor="middle" fill="#3a3a3a">***</text>
<line x1="1365.8" y1="1493.3" x2="1458.5" y2="1493.3" stroke="#2e2e2e" stroke-width="1.5"/>
<line x1="1365.8" y1="1489.0" x2="1365.8" y2="1497.6" stroke="#3a3a3a" stroke-width="1.4"/>
<line x1="1458.5" y1="1489.0" x2="1458.5" y2="1497.6" stroke="#3a3a3a" stroke-width="1.4"/>
<text x="1413.0" y="1497.1" font-size="17.2" font-weight="bold" text-anchor="middle" fill="#3a3a3a">***</text>
<line x1="1471.3" y1="1574.0" x2="1565.3" y2="1574.0" stroke="#8a8a8a" stroke-width="2.3"/>
<line x1="1471.3" y1="1569.7" x2="1471.3" y2="1578.3" stroke="#3a3a3a" stroke-width="1.4"/>
<line x1="1565.3" y1="1569.7" x2="1565.3" y2="1578.3" stroke="#3a3a3a" stroke-width="1.4"/>
<text x="1519.2" y="1578.7" font-size="17.2" font-weight="bold" text-anchor="middle" fill="#3a3a3a">***</text>
</g>
<text class="pl" transform="translate(579.80 69.80) scale(1.0000 1.0203)" font-size="82" fill="#0a0a0a">A</text>
<text class="pl" transform="translate(3.67 720.40) scale(0.9895 0.9650)" font-size="82" fill="#0a0a0a">B</text>
<text class="pl" transform="translate(588.37 720.42) scale(1.0318 0.9806)" font-size="82" fill="#0a0a0a">C</text>
<text class="pl" transform="translate(1171.65 720.40) scale(1.0933 0.9650)" font-size="82" fill="#0a0a0a">D</text>
<text class="pl" transform="translate(4.16 1380.60) scale(0.9486 0.9967)" font-size="82" fill="#0a0a0a">E</text>
<text class="pl" transform="translate(584.91 1408.10) scale(1.0129 0.9966)" font-size="82" fill="#0a0a0a">F</text>
<text class="pl" transform="translate(1174.11 1408.02) scale(1.0468 0.9790)" font-size="82" fill="#0a0a0a">G</text>
</g>
</svg>
</body>
</html>
